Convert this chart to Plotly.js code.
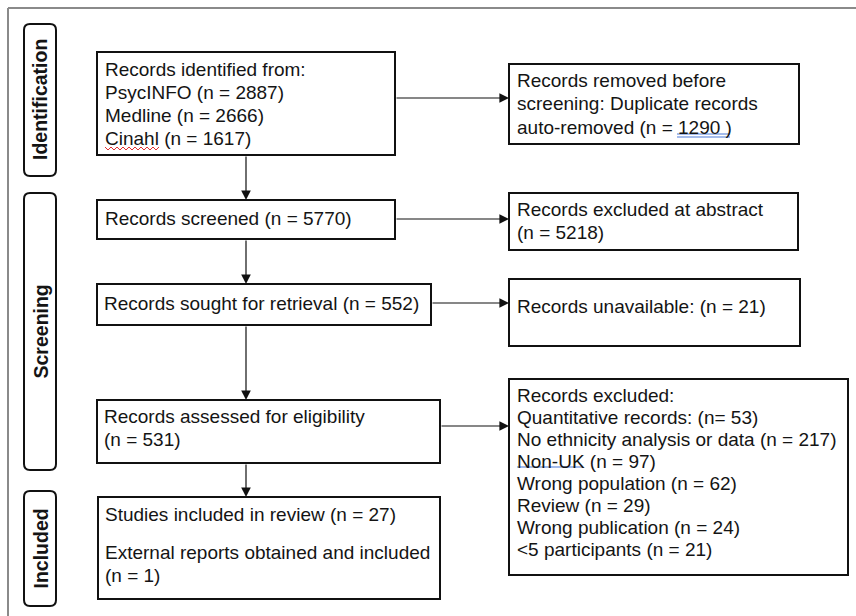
<!DOCTYPE html>
<html>
<head>
<meta charset="utf-8">
<script src="https://cdn.plot.ly/plotly-3.0.1.min.js"></script>
<style>html,body{margin:0;padding:0;background:#fff;}#chart{width:856px;height:616px;}</style>
</head>
<body>
<div id="chart"></div>
<script>
// ---- data ----
const stages = ["Identification", "Screening", "Included"];
const sources = ["PsycINFO", "Medline", "Cinahl"];
const sourceCounts = [2887, 2666, 1617];
const duplicatesRemoved = 1290;
const recordsScreened = 5770;
const excludedAtAbstract = 5218;
const soughtForRetrieval = 552;
const unavailable = 21;
const assessedForEligibility = 531;
const exclusionReasons = ["Quantitative records:", "No ethnicity analysis or data", "Non-UK", "Wrong population", "Review", "Wrong publication", "<5 participants"];
const exclusionCounts = [53, 217, 97, 62, 29, 24, 21];
const studiesIncluded = 27;
const externalReports = 1;

// ---- layout helpers ----
const FONT = "Liberation Sans, Arial, sans-serif";
const FS = 19;
const TXT = "#141414";
const shapes = [];
const annotations = [];

function rect(x0, y0, x1, y1) {
  shapes.push({type: "rect", xref: "x", yref: "y", x0: x0, y0: y0, x1: x1, y1: y1,
    line: {color: "#111", width: 2}, fillcolor: "rgba(0,0,0,0)"});
}
function roundRect(x0, y0, x1, y1, r) {
  const p = `M ${x0 + r} ${y0} L ${x1 - r} ${y0} Q ${x1} ${y0} ${x1} ${y0 + r} L ${x1} ${y1 - r} Q ${x1} ${y1} ${x1 - r} ${y1} L ${x0 + r} ${y1} Q ${x0} ${y1} ${x0} ${y1 - r} L ${x0} ${y0 + r} Q ${x0} ${y0} ${x0 + r} ${y0} Z`;
  shapes.push({type: "path", xref: "x", yref: "y", path: p, line: {color: "#111", width: 2}});
}
function line(x0, y0, x1, y1, color, width) {
  shapes.push({type: "line", xref: "x", yref: "y", x0: x0, y0: y0, x1: x1, y1: y1,
    line: {color: color, width: width}});
}
function text(x, y, t, opts) {
  annotations.push(Object.assign({x: x - 2, y: y, xref: "x", yref: "y", text: t, showarrow: false,
    xanchor: "left", yanchor: "middle", font: {family: FONT, size: FS, color: TXT}}, opts || {}));
}
function lines(x, yStart, step, arr) {
  arr.forEach((t, i) => text(x, yStart + i * step, t));
}
function arrow(xFrom, yFrom, xTo, yTo) {
  annotations.push({x: xTo, y: yTo, ax: xFrom, ay: yFrom, xref: "x", yref: "y", axref: "x", ayref: "y",
    text: "", showarrow: true, arrowhead: 2, arrowsize: 1.6, arrowwidth: 1.2, arrowcolor: "#111", standoff: 0});
}
function stageLabel(x0, y0, x1, y1, t) {
  roundRect(x0, y0, x1, y1, 6);
  annotations.push({x: (x0 + x1) / 2, y: (y0 + y1) / 2, xref: "x", yref: "y", text: "<b>" + t + "</b>",
    showarrow: false, xanchor: "center", yanchor: "middle", textangle: -90,
    font: {family: FONT, size: 19.5, color: TXT}});
}

// outer frame (top and left edges visible)
line(8, 8, 860, 8, "#8a8a8a", 2);
line(8, 8, 8, 620, "#8a8a8a", 2);

// stage labels
stageLabel(24, 24, 56, 176, stages[0]);
stageLabel(24, 193, 56, 470, stages[1]);
stageLabel(24, 491, 56, 606, stages[2]);

// left column boxes
rect(97, 52, 395, 155);
lines(105, 69, 23, ["Records identified from:"].concat(sources.map((s, i) => `${s} (n = ${sourceCounts[i]})`)));
rect(97, 200, 395, 239);
text(105, 218, `Records screened (n = ${recordsScreened})`);
rect(97, 284, 431, 325);
text(104, 303, `Records sought for retrieval (n = ${soughtForRetrieval})`);
rect(97, 400, 440, 463);
lines(104, 416, 23, ["Records assessed for eligibility", `(n = ${assessedForEligibility})`]);
rect(98, 497, 440, 599);
text(105, 514, `Studies included in review (n = ${studiesIncluded})`);
lines(105, 552, 23, ["External reports obtained and included", `(n = ${externalReports})`]);

// right column boxes
rect(509, 64, 799, 144);
lines(517, 80, 23.5, ["Records removed before", "screening: Duplicate records", `auto-removed (n = ${duplicatesRemoved} )`]);
rect(509, 193, 798, 250);
lines(517, 209, 23, ["Records excluded at abstract", `(n = ${excludedAtAbstract})`]);
rect(509, 279, 800, 346);
text(517, 306, `Records unavailable: (n = ${unavailable})`);
rect(509, 379, 848, 575);
const exclLines = ["Records excluded:"].concat(exclusionReasons.map((r, i) =>
  i === 0 ? `${r} (n= ${exclusionCounts[i]})` : `${r} (n = ${exclusionCounts[i]})`));
lines(517, 395, 22, exclLines);

// proofing marks seen in the source document
shapes.push({type: "path", xref: "x", yref: "y",
  path: "M 105 147 L 108 150 L 111 147 L 114 150 L 117 147 L 120 150 L 123 147 L 126 150 L 129 147 L 132 150 L 135 147 L 138 150 L 141 147 L 144 150 L 147 147 L 150 150 L 153 147 L 156 150 L 159 147",
  line: {color: "#e03030", width: 1}});
line(677, 134, 730, 134, "#4a78d8", 1);
line(677, 137, 730, 137, "#4a78d8", 1);
line(517, 467, 583, 467, "#4a78d8", 1.2);

// arrows
arrow(246, 155, 246, 200);
arrow(246, 239, 246, 284);
arrow(246, 325, 246, 400);
arrow(246, 463, 246, 497);
arrow(395, 98, 509, 98);
arrow(395, 219, 509, 219);
arrow(431, 303, 509, 303);
arrow(440, 426, 509, 426);

const layout = {
  width: 856, height: 616,
  margin: {l: 0, r: 0, t: 0, b: 0},
  paper_bgcolor: "#ffffff", plot_bgcolor: "#ffffff",
  xaxis: {range: [0, 856], visible: false, fixedrange: true},
  yaxis: {range: [616, 0], visible: false, fixedrange: true},
  shapes: shapes,
  annotations: annotations,
  showlegend: false
};
Plotly.newPlot("chart", [], layout, {displayModeBar: false, staticPlot: true});
</script>
</body>
</html>
